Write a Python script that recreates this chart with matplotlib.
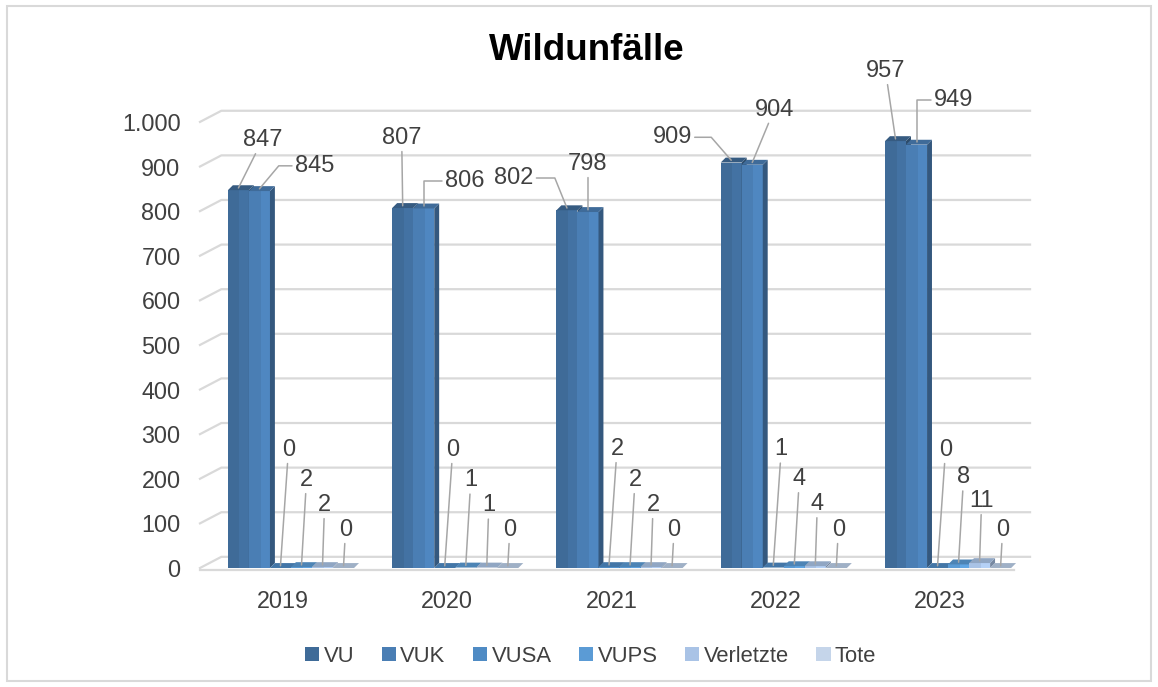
import matplotlib
matplotlib.use("Agg")
import matplotlib.pyplot as plt
from matplotlib.patches import Rectangle, Polygon, Patch
from matplotlib.colors import to_rgb

plt.rcParams['font.family'] = ['Liberation Sans', 'DejaVu Sans']

# Daten
jahre = ['2019', '2020', '2021', '2022', '2023']
serien = ['VU', 'VUK', 'VUSA', 'VUPS', 'Verletzte', 'Tote']
vu = [847, 807, 802, 909, 957]
vuk = [845, 806, 798, 904, 949]
vusa = [0, 0, 2, 1, 0]
vups = [2, 1, 2, 4, 8]
verletzte = [2, 1, 2, 4, 11]
tote = [0, 0, 0, 0, 0]
werte = [vu, vuk, vusa, vups, verletzte, tote]

farben = ['#3f6b98', '#4a7eb4', '#4f8bc4', '#5b9bd5', '#a9c3e6', '#c5d5ea']

# Label-Versatz (Pixel) fuer die grossen Saeulen: (dx, dy, Winkel der Fuehrungslinie oder None)
versatz_vu = [(24, 48, None), (-1, 68, None), (-53, 30, -68), (-59, 23, -49), (-10, 68, None)]
versatz_vuk = [(55, 23, 50), (41, 25, 90), (0, 46, None), (22, 53, None), (37, 42, 90)]
versatz_klein = [(8, 116), (5, 85), (2, 60), (2, 36)]

fig = plt.figure(figsize=(11.58, 6.87), dpi=100)
ax = fig.add_axes([0.1727, 0.1635, 0.7168, 0.698])
xl, xr = -0.505, 4.548
ax.set_xlim(xl, xr)
ax.set_ylim(-15, 1060)
for s in ax.spines.values():
    s.set_visible(False)

grau = '#d9d9d9'
txt = '#404040'

# Gitterlinien mit 3D-Rueckwand
for v in range(0, 1001, 100):
    ax.plot([xl, xl + 0.13, xr], [v, v + 25, v + 25], color=grau, lw=1.6,
            clip_on=False, zorder=0)
ax.plot([xl, 4.45], [-4, -4], color=grau, lw=1.6, clip_on=False, zorder=0)

ax.set_yticks(range(0, 1001, 100))
ax.set_yticklabels([f'{v:,}'.replace(',', '.') for v in range(0, 1001, 100)])
ax.set_xticks(range(len(jahre)))
ax.set_xticklabels(jahre)
ax.tick_params(axis='both', length=0, labelsize=16.8, labelcolor=txt)
ax.tick_params(axis='y', pad=14)
ax.tick_params(axis='x', pad=11)


def tone(c, f):
    r, g, b = to_rgb(c)
    return (min(r * f, 1), min(g * f, 1), min(b * f, 1))


bw = 0.128
start = -0.335
ddx, ddy = 0.03, 11
z = 2
for i in range(len(jahre)):
    for j, reihe in enumerate(werte):
        h = reihe[i]
        x0 = i + start + j * bw
        x1 = x0 + bw
        oben = tone(farben[j], 0.85) if j < 5 else '#9fb0c6'
        ax.add_patch(Rectangle((x0, 0), bw * 0.55, h, color=farben[j], lw=0, zorder=z))
        ax.add_patch(Rectangle((x0 + bw * 0.55, 0), bw * 0.45, h, color=tone(farben[j], 1.07),
                               lw=0, zorder=z))
        ax.add_patch(Polygon([(x1, 0), (x1 + ddx, ddy), (x1 + ddx, h + ddy), (x1, h)],
                             closed=True, color=tone(farben[j], 0.7), lw=0, zorder=z))
        ax.add_patch(Polygon([(x0, h), (x1, h), (x1 + ddx, h + ddy), (x0 + ddx, h + ddy)],
                             closed=True, color=oben, lw=0, zorder=z))
        z += 1

# Datenbeschriftungen
linie = '#a6a6a6'
for i in range(len(jahre)):
    for j, reihe in enumerate(werte):
        xc = i + start + j * bw + bw / 2
        if j == 0:
            dx, dy, ang = versatz_vu[i]
        elif j == 1:
            dx, dy, ang = versatz_vuk[i]
        else:
            dx, dy = versatz_klein[j - 2]
            ang = None
        conn = 'arc3' if ang is None else f'angle,angleA=0,angleB={ang},rad=0'
        ax.annotate(str(reihe[i]), xy=(xc, reihe[i] + 5), xytext=(dx, dy),
                    textcoords='offset pixels', ha='center', va='center',
                    fontsize=17, color=txt, zorder=100,
                    arrowprops=dict(arrowstyle='-', color=linie, lw=1.1,
                                    shrinkA=0, shrinkB=0, connectionstyle=conn))

fig.text(0.5065, 1 - 50 / 687, 'Wildunfälle', ha='center', va='center',
         fontsize=26.5, fontweight='bold', color='black')

handles = [Patch(facecolor=c, edgecolor='none') for c in farben]
fig.legend(handles, serien, loc='center', bbox_to_anchor=(0.51, 0.045), ncol=6,
           frameon=False, handlelength=0.65, handleheight=0.65, handletextpad=0.2,
           columnspacing=1.25, fontsize=15.8, labelcolor=txt)

fig.add_artist(Rectangle((7 / 1158, 6 / 687), 1144 / 1158, 675 / 687,
                         transform=fig.transFigure, fill=False, edgecolor=grau, lw=1.5))

fig.savefig('out.png', dpi=100)
